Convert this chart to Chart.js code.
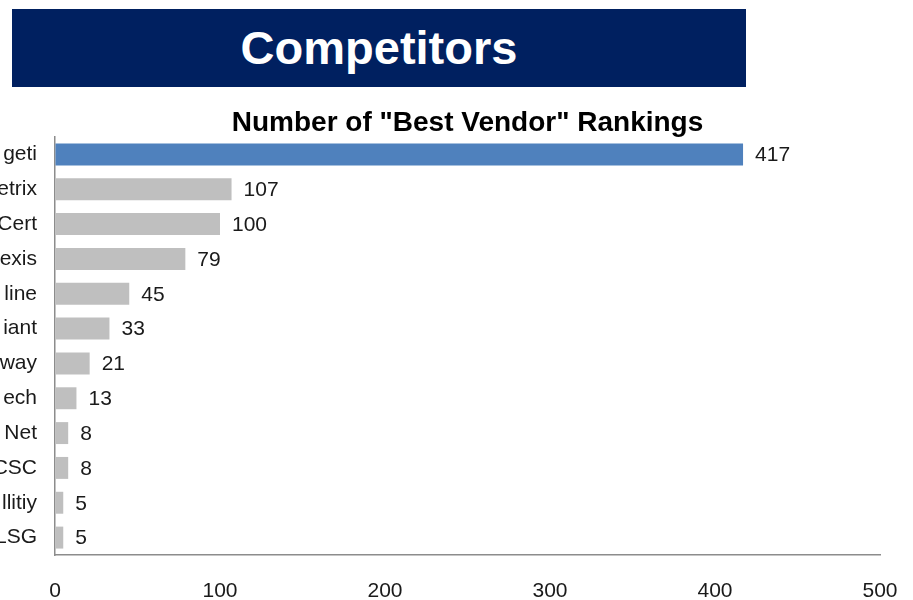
<!DOCTYPE html>
<html>
<head>
<meta charset="utf-8">
<script src="https://cdn.jsdelivr.net/npm/chart.js@4.4.0/dist/chart.umd.min.js"></script>
<style>
  html, body { margin:0; padding:0; background:#fff; }
  body { width:913px; height:600px; position:relative; overflow:hidden; font-family:"Liberation Sans", Arial, sans-serif; }
  #banner { position:absolute; left:12px; top:9px; width:734px; height:78px; background:#002060;
            color:#fff; font-weight:bold; font-size:47px; line-height:78px; text-align:center; }
  #wrap { position:absolute; left:0; top:0; width:913px; height:600px; }
</style>
</head>
<body>
<div id="wrap"><canvas id="c" width="913" height="600"></canvas></div>
<div id="banner">Competitors</div>
<script>
const categories = ["geti", "etrix", "Cert", "exis", "line", "iant", "way", "ech", "Net", "CSC", "llitiy", "LSG"];
const rankings = [417, 107, 100, 79, 45, 33, 21, 13, 8, 8, 5, 5];
const xTicks = [0, 100, 200, 300, 400, 500];
const chartTitle = 'Number of "Best Vendor" Rankings';

const barColors = rankings.map((v, i) => i === 0 ? '#4F81BD' : '#BFBFBF');
const FONT = '"Liberation Sans", Arial, sans-serif';

const valueLabels = {
  id: 'valueLabels',
  afterDatasetsDraw(chart) {
    const ctx = chart.ctx;
    const meta = chart.getDatasetMeta(0);
    ctx.save();
    ctx.font = '21px ' + FONT;
    ctx.fillStyle = '#1a1a1a';
    ctx.textAlign = 'left';
    ctx.textBaseline = 'middle';
    meta.data.forEach((bar, i) => {
      ctx.fillText(String(rankings[i]), bar.x + 12, bar.y + 1);
    });
    ctx.restore();
  }
};

new Chart(document.getElementById('c'), {
  type: 'bar',
  data: {
    labels: categories,
    datasets: [{
      data: rankings,
      backgroundColor: barColors,
      borderWidth: 0,
      barPercentage: 0.63,
      categoryPercentage: 1.0
    }]
  },
  options: {
    indexAxis: 'y',
    responsive: false,
    animation: false,
    layout: { padding: { left: 0, right: 33, top: 0, bottom: 0 } },
    plugins: {
      legend: { display: false },
      tooltip: { enabled: false },
      title: {
        display: true,
        text: chartTitle,
        fullSize: false,
        color: '#000',
        font: { family: FONT, size: 28, weight: 'bold', lineHeight: 1.0 },
        padding: { top: 109, bottom: 0 }
      }
    },
    scales: {
      x: {
        min: 0, max: 500,
        afterBuildTicks(scale) { scale.ticks = xTicks.map(v => ({ value: v })); },
        afterFit(scale) { scale.height = 45; scale.paddingLeft = 0; scale.paddingRight = 0; },
        grid: { display: true, color: 'rgba(0,0,0,0)', drawTicks: false },
        border: { display: true, color: '#8c8c8c', width: 1.5 },
        ticks: {
          padding: 24,
          color: '#1a1a1a',
          font: { family: FONT, size: 21 },
          maxRotation: 0
        }
      },
      y: {
        afterFit(scale) { scale.width = 55; scale.paddingTop = 0; scale.paddingBottom = 0; },
        grid: { display: true, color: 'rgba(0,0,0,0)', drawTicks: false },
        border: { display: true, color: '#8c8c8c', width: 1.5 },
        ticks: {
          padding: 18,
          color: '#1a1a1a',
          font: { family: FONT, size: 21 },
          autoSkip: false
        }
      }
    }
  },
  plugins: [valueLabels]
});
</script>
</body>
</html>
